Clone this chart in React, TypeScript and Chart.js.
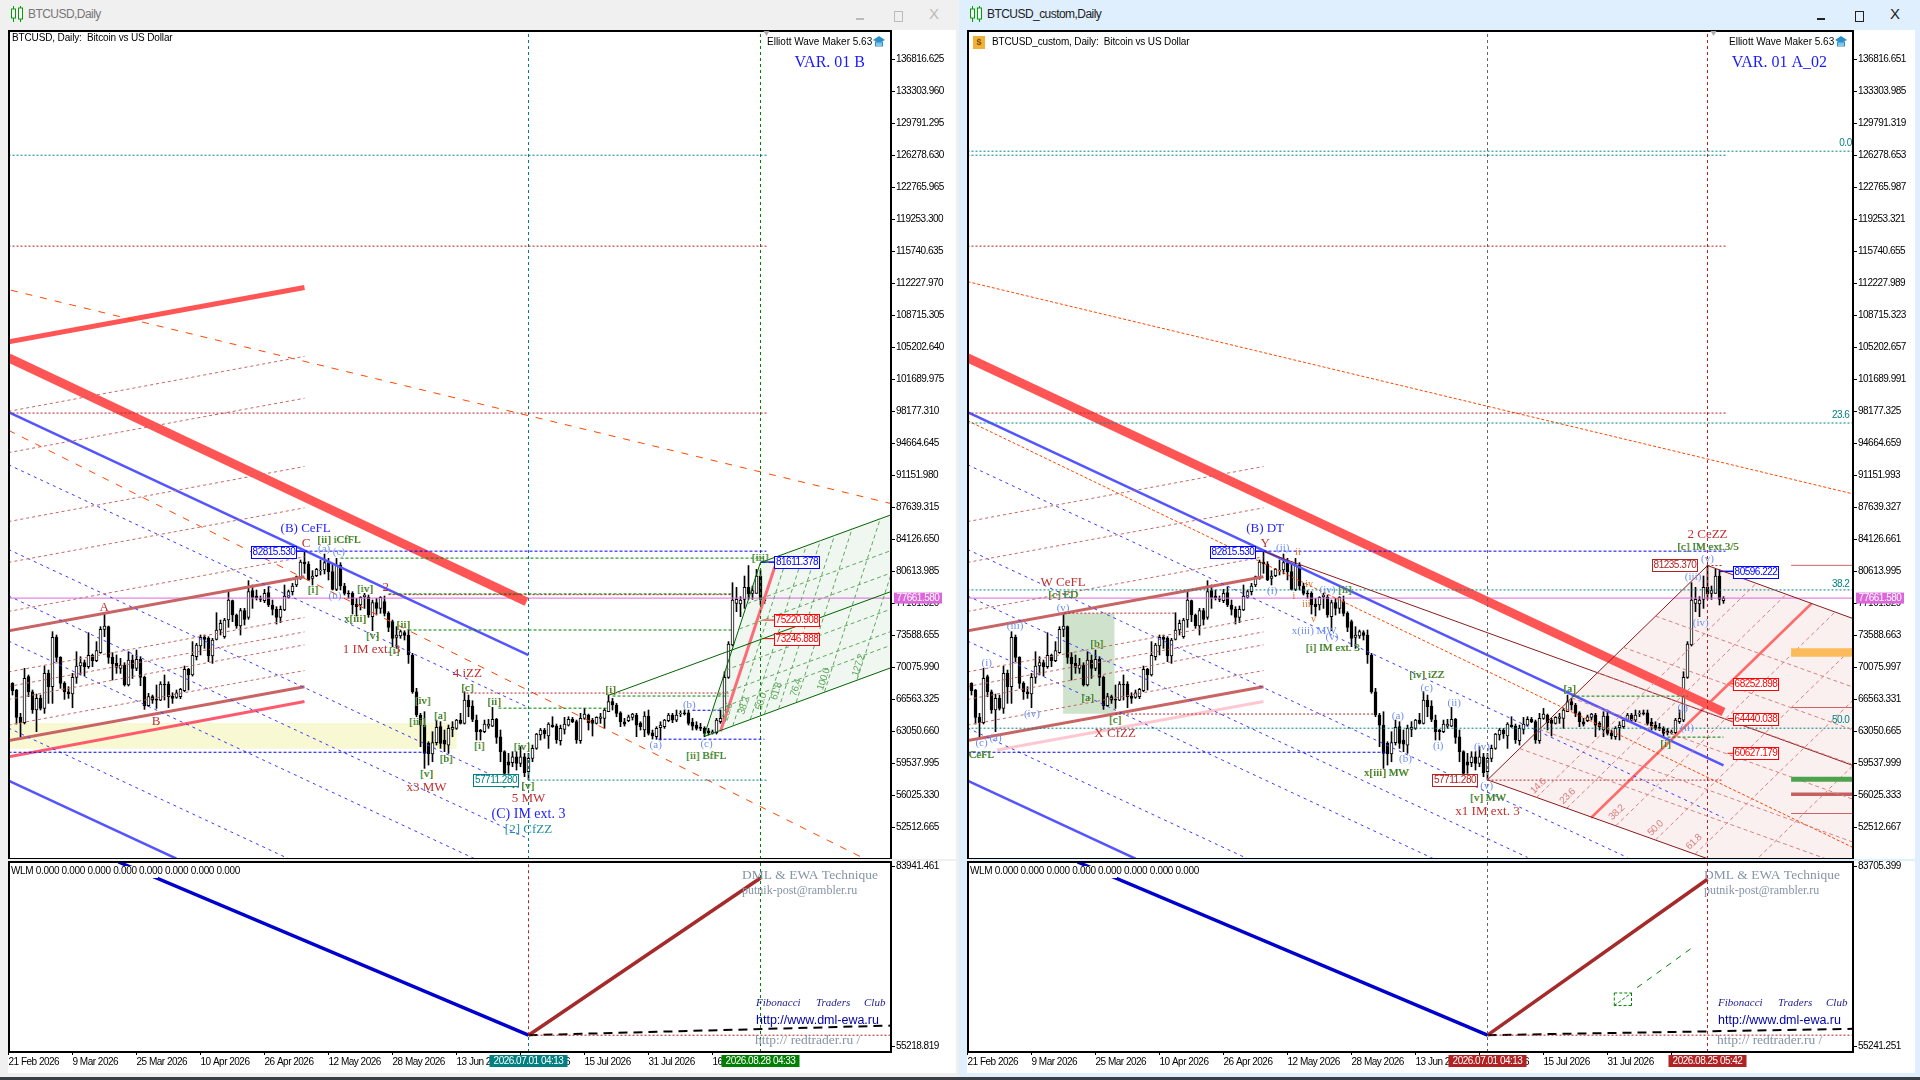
import React, { useEffect, useRef } from "react";
import { Chart, registerables } from "chart.js";

Chart.register(...registerables);

// ---------- candles (one per day from 21 Feb 2026) ----------
const opens = [68300,68300,67570,64570,63980,69035,67385,65375,66655,65555,
69400,67935,73355,71155,68300,67385,67130,68960,70205,70570,
70130,71375,70790,71670,74230,74525,71155,70495,69950,70315,
68120,70865,69950,70935,68960,65850,66840,66545,66470,68230,
68230,66910,66765,66840,67500,69840,69220,71230,72400,73355,
73245,71305,73130,74160,73425,75255,77380,75805,74600,76280,
75550,78475,77890,77600,77380,78255,76905,76425,75550,76355,
77745,78365,79100,79830,81625,81405,79830,80125,80675,80745,
81550,80565,78625,81295,78990,78185,78185,77015,76905,77820,
77745,75620,77160,76535,77270,75990,75075,73355,73500,73865,
73610,71415,67385,64825,63725,61710,60545,61790,63545,62080,
61530,63250,63360,64275,63910,66470,65815,64275,63180,62995,
63615,63615,64350,62445,60800,59700,59590,60250,59520,60250,
58605,60065,61165,62630,63180,62520,63725,63615,62005,63250,
63725,64350,64095,62005,64460,64825,64275,63910,64460,64460,
65190,66290,65925,65080,64090,64200,64570,64825,63910,63180,
64715,62885,62445,63435,63545,64200,64825,64275,64935,65080,
65080,64020,63725,63470,63360,63105,62885,62885,64090,64275,
68960,72510,77085,77015,77525,78840,78185,78185,80085,77380];
const closes = [67570,67500,64570,63980,68850,67385,65375,66655,65555,69400,
67935,73355,71155,68300,67385,67130,68960,70205,70570,70130,
71375,70790,71890,74230,74600,71155,70425,70060,70315,68120,
70865,69950,70935,68960,65850,66840,66470,66470,68230,68120,
66840,66655,67275,67640,69840,69220,71375,72510,73355,73130,
71305,73060,74160,74890,75255,77450,75805,74600,76280,75330,
78365,77745,77670,77525,78185,76905,76425,75550,76425,77890,
78365,78990,80015,81625,81405,79650,80085,80820,80745,81550,
80565,78625,81295,78990,78185,78110,76905,76720,77745,78000,
75805,77160,76535,77745,75990,74450,73245,73610,73975,73575,
71415,67385,64825,63725,60615,60545,61790,63470,61715,61640,
63360,63470,64275,63910,66470,65740,64350,62995,62995,63835,
63835,64350,62375,60800,58420,59335,60250,59520,60250,58495,
60065,61165,62740,63180,62740,63835,63545,62080,63360,63835,
64350,64095,62080,64460,64935,63985,63910,64570,64640,65375,
66290,65925,65010,64090,63835,64640,64935,63725,63545,64715,
62810,62520,63360,63725,64275,64825,64275,64825,65010,64935,
63910,63615,63360,63360,62810,62885,62995,64275,64460,68960,
72620,77450,77525,77450,78840,78110,78475,80085,77525,77635];
const highs = [68375,68375,67640,65010,69950,69220,67570,67130,67020,70205,
69765,73975,73610,71230,68485,67935,69400,71780,71230,70865,
73865,71520,72880,74525,75915,74600,71670,71415,71045,70570,
71780,71415,71960,71230,69105,67205,67020,68120,68485,69220,
68485,67275,67570,67755,70205,69950,72880,72695,73610,73610,
73425,73245,76060,75255,75440,78365,77450,75915,76535,76535,
79575,79100,78550,77890,78625,78915,77450,76720,76795,79100,
78550,79280,80085,81845,82830,81660,80675,80930,81845,82500,
82025,81405,82025,81550,79280,78475,78365,77635,77820,78185,
78000,77450,77635,77820,77890,76170,75255,74525,74160,74085,
74160,71595,67755,65010,65190,61900,62995,64275,64095,63180,
63725,64095,64350,65010,67385,67020,66400,64825,63250,64275,
64350,65665,64460,63180,60910,60615,60800,60800,61350,60615,
60615,61530,62810,63360,63360,63985,64640,63835,63725,64570,
64640,64570,64275,65010,65555,64935,64460,64640,65010,65555,
67020,66655,66105,65190,64460,64825,65010,65010,64090,65190,
65375,63180,63545,64090,64350,65010,65010,65375,65300,65375,
65375,64460,64090,63910,63545,63360,63180,64460,65375,69580,
72880,79355,78840,77820,80085,81235,78990,80820,80745,77820];
const lows = [67570,67020,63840,62450,63840,66840,65010,62995,65375,65010,
66105,66105,70680,67755,66545,66655,65630,68300,69220,69105,
69950,70130,70680,71595,73425,70495,68670,69400,69400,68010,
68010,68850,69695,68045,65445,65740,66105,65555,66400,66470,
65630,66105,66655,66620,67385,67570,69105,70865,71415,72145,
70680,70495,73060,73610,73245,74450,75075,74340,73610,74705,
75330,76535,77450,77270,77160,76720,75805,74815,74965,76280,
77635,78000,78915,79720,80380,79575,79100,80015,80195,80305,
79650,78550,78475,78550,78000,77635,75915,75695,76355,76535,
75550,74085,75805,75990,75695,73975,72330,72145,73245,73060,
70495,67205,64640,61350,58970,59335,59700,61530,61165,60800,
60615,62445,63250,63835,63835,64640,64095,62080,62080,62885,
63360,63545,61715,59700,58055,58420,59150,58785,59150,58055,
57711,59700,61055,62080,62265,61165,63470,61715,61530,62740,
63615,63985,61715,61715,64350,63180,62520,63835,63910,63360,
65190,65375,64640,63545,63615,64090,64275,62445,63180,62445,
62630,62190,62155,62080,63360,64090,63985,64090,64640,64825,
63725,63180,63180,63105,62445,62630,62740,62740,63910,64090,
68850,72400,76170,75620,76535,77525,77525,78185,76905,77085];

// ---------- axes ----------
const dateTickDays = [0,16,32,48,64,80,96,112,128,144,160,176];
const dateTickLabels = ["21 Feb 2026","9 Mar 2026","25 Mar 2026","10 Apr 2026","26 Apr 2026","12 May 2026","28 May 2026","13 Jun 2026","29 Jun 2026","15 Jul 2026","31 Jul 2026","16 Aug 2026"];
const leftPriceTicks = [136816.625,133303.96,129791.295,126278.63,122765.965,119253.3,115740.635,112227.97,108715.305,105202.64,101689.975,98177.31,94664.645,91151.98,87639.315,84126.65,80613.985,77101.32,73588.655,70075.99,66563.325,63050.66,59537.995,56025.33,52512.665];
const rightPriceTicks = [136816.651,133303.985,129791.319,126278.653,122765.987,119253.321,115740.655,112227.989,108715.323,105202.657,101689.991,98177.325,94664.659,91151.993,87639.327,84126.661,80613.995,77101.329,73588.663,70075.997,66563.331,63050.665,59537.999,56025.333,52512.667];
const leftIndicatorTicks = [83941.461, 55218.819];
const rightIndicatorTicks = [83705.399, 55241.251];
const lastPrice = 77661.58;

// ---------- drawn lines: [day, price, day, price] ----------
const sharedBlueLower = [[0,57620,42,49056]];
const sharedBrownThick = [[0,74060,74,80010],[0,62020,74,67930]];
const sharedBrownDash = [[0,86060,74,92110],[0,81580,74,87570],[0,76200,74,82190],[0,69560,74,75550],[0,67960,74,73950],[0,66540,74,72530],[0,63720,74,69710]];
const leftExtraBrownDash = [[0,98160,74,104200],[0,93630,74,99600]];
const leftThickRedDown = [[0,104030,129.5,77260]];
const leftThickRedUp = [[0,105790,74,111760]];
const leftBlue = [[0,98080,130,71390]];
const leftOrange = [[0.6,111460,221,88000],[0,96080,214,49056]];
const leftBlueFan = [[0,92300,130,65650],[0,83000,130,56350],[0,77900,130,51250],[0,72950,116.5,49056],[0,63400,70,49056]];
const leftRedChannel = [[0,60240,74,66300]];
const leftTealLevels = [[0,126278,189.5,126278],[130,57680,189.5,57680]];
const leftRedLevels = [[0,116296,189.5,116296],[0,97972,189.5,97972],[95,78040,181,78040],[114.5,67240,180,67240]];
const leftGreenLevels = [[83,82050,189,82050],[95,78120,181,78120],[100,74160,181,74160],[151,66910,180,66910],[122.5,65580,150,65580]];
const leftBlueLevels = [[74,82815,189.5,82815],[171,65350,178,65350],[162.5,62175,189,62175],[0,60740,105,60740]];
const leftGreenSolid = [[173.9,62520,188,81600],[150,66990,221,78440],[188,81560,221,86860],[174,62480,221,70080]];
const leftPinkMedian = [[178,63030,191.6,81130]];
const leftStubBlue = [[66.4,82815,74,82815],[188,81611,192,81611]];
const leftStubRed = [[188.5,75250,192,75250],[188.5,73210,192,73210]];

const rightThickRed = [[0,104030,189,65160]];
const rightBlue = [[0,98080,189,59300]];
const rightOrange = [[0,112400,221.4,89100],[0,97140,221.4,50280]];
const rightBlueFan = [[0,92300,189,53550],[0,83000,165,49180],[0,77900,140,49200],[0,72950,116.5,49056],[0,63400,70,49056]];
const rightPaleChannel = [[7.4,60995,74,66300]];
const rightTealLevels = [[0,126278,189.5,126278],[0,126720,221.4,126720],[0,96880,221.4,96880],[0,78560,221.4,78560],[0,63380,221.4,63380]];
const rightRedLevels = [[0,116296,189.5,116296],[0,97972,189.5,97972],[24.2,76010,52,76010],[36.9,64935,102,64935],[130,57680,189,57680],[185,81235,189,81235]];
const rightGreenLevels = [[151,66900,180,66900],[175,62400,189,62400]];
const rightBlueLevels = [[74,82815,189.5,82815],[0,60740,105,60740]];
const rightDarkRed = [[74.3,82740,221.4,59280],[185,81235,221.4,75410],[130,57711,185,49056],[130,57711,185,81235]];
const rightPinkMedian = [[155.9,53550,211,77070]];
const rightTargetThin = [[205.9,81260,221.4,81260],[205.9,65650,221.4,65650],[205.9,54015,221.4,54015]];
const rightTargetThick = [[205.9,56130,221.4,56130]];
const rightStubBlue = [[66.4,82815,74,82815],[188,80596,192,80596]];
const rightStubRed = [[190,68252,193,68252],[190,64440,193,64440],[190,60627,193,60627]];

// ---------- shaded areas: [day, price] corners ----------
const leftYellowZone = [[0,63950],[112,63950],[112,61130],[0,61130]];
const leftGreenFan = [[174,62480],[188,81560],[221,86860],[221,70080]];
const rightPinkFan = [[130,57711],[185,81235],[221.4,75410],[221.4,49022],[185,49022]];
const rightGreenBox = [[23.9,76010],[36.75,76010],[36.75,64975],[23.9,64975]];
const rightOrangeBox = [[205.9,72150],[221.4,72150],[221.4,71210],[205.9,71210]];
const rightGreenBar = [[205.9,58060],[221.4,58060],[221.4,57490],[205.9,57490]];

// ---------- fibonacci levels of the two fans ----------
const leftFanRays = [23.6,38.2,50,61.8,76.4,100,127.2];
const leftFanRows = [0.146,0.236,0.382,0.618,0.764];
const rightFanRays = [14.6,23.6,38.2,50,61.8,76.4,100];
const rightFanRows = [0.146,0.236,0.382,0.5,0.618,0.764];

// ---------- indicator pane ----------
const leftIndBlue = [[27.5,84643,130,57018]];
const leftIndBrown = [[130,57018,188,82091]];
const leftIndBlack = [[130,57018,221,58565]];
const leftIndRed = [[130,57018,221,57018]];
const rightIndBlue = [[27.5,84400,130,57035]];
const rightIndBrown = [[130,57035,185,81680]];
const rightIndBlack = [[130,57035,221.4,58030]];
const rightIndRed = [[130,57035,221.4,57035]];
const rightIndGreenDash = [[167.4,64555,181.9,71190]];
const rightIndGreenBox = [[161.7,63700,166,63700],[166,63700,166,61710],[166,61710,161.7,61710],[161.7,61710,161.7,63700],[161.7,61710,166,63700]];

// ---------- wave labels: [text, day, price] ----------
const leftBlueLabels = [["(B) CeFL",74.3,85266]];
const leftBlueBig = [["(C) IM ext. 3",130,53900]];
const leftRedLabels = [["C",74.4,83620],["2",94.3,78830],["1 IM ext. 3",90.8,72000],["A",23.9,76670],["B",36.9,64120],["x3 MW",104.5,56850],["4 iZZ",114.7,69400],["5 MW",130,55640]];
const leftTealLabels = [["[2] CfZZ",130,52240]];
const leftGreenLabels = [["[ii] iCfFL",82.6,83980],["[i]",76.1,78490],["[iv]",89.1,78690],["x[iii]",86.6,75350],["[ii]",98.7,74730],["[v]",91,73450],["[i]",96.4,71870],["[iv]",103.5,66380],["[iii]",102.2,64010],["[a]",107.9,64750],["[b]",109.4,59990],["[v]",104.5,58380],["[c]",114.7,67810],["[ii]",121.4,66220],["[i]",117.7,61460],["[iv]",128.3,61270],["[a]",125,57300],["[v]",129.8,57040],["[i]",150.5,67540],["[ii] BfFL",174.4,60360],["[iii]",187.9,82090]];
const leftLightLabels = [["(a)",78.9,83060],["(c)",82.6,82660],["(b)",81.6,77900],["(b)",170.2,65920],["(a)",161.8,61500],["(c)",174.5,61650]];
const leftBlueBoxes = [["82815.530",66.4,82770],["81611.378",197,81600]];
const leftRedBoxes = [["75220.908",197,75250],["73246.888",197,73210]];
const leftTealBoxes = [["57711.280",121.9,57680]];
const leftFanLabels = [["23.6",179.7,65160],["38.2",183.9,65840],["50.0",188.2,66300],["61.8",192,67430],["76.4",196.9,67810],["100.0",203.8,68750],["127.2",212.5,70270]];

const rightBlueLabels = [["(B) DT",74.4,85266]];
const rightRedLabels = [["Y",74.4,83690],["W CeFL",23.9,79370],["X CfZZ",36.9,62820],["x1 IM ext. 3",130,54200],["2 CeZZ",185,84680]];
const rightGreenLabels = [["[c] ED",23.9,78010],["[c] CeFL",1.6,60480],["[b]",32.3,72570],["[a]",30,66670],["[c]",36.9,64260],["[ii]",94.3,78500],["[i] IM ext. 3",91.3,72150],["x[iii] MW",104.7,58440],["[iv] iZZ",114.8,69170],["[v] MW",130.1,55720],["[a]",150.5,67620],["[i]",174.5,61680],["[c] IM ext.3/5",185.1,83230]];
const rightLightLabels = [["(ii)",78.8,83140],["(v)",23.9,76610],["(iii)",11.9,74610],["(i)",4.8,70570],["(iv)",16.1,64970],["(c)",3.5,61760],["(a)",7,62330],["(i)",76.2,78460],["(iv)",90,78500],["x(iii) MW",86.7,74040],["(v)",91.1,73400],["(a)",107.6,64750],["(b)",109.5,59990],["(c)",114.8,67810],["(ii)",121.7,66180],["(i)",117.7,61460],["(iv)",128.6,61270],["(v)",129.8,57000],["(i)",178.8,65620],["(ii)",179.9,63380],["(iii)",181.4,80020],["(iv)",183.3,74870],["(v)",185,81900]];
const rightOrangeLabels = [["ii",82.6,82660],["iv",85.4,79140],["i",81.6,77900],["iii",84.7,77000],["v",86.5,75290]];
const rightTealLabels = [["0.0",219.5,127550],["23.6",218.3,97710],["38.2",218.3,79145],["50.0",218.3,64220]];
const rightBlueBoxes = [["82815.530",66.4,82770],["80596.222",197.2,80580]];
const rightRedBoxes = [["68252.898",197.2,68220],["64440.038",197.2,64440],["60627.179",197.2,60630]];
const rightMaroonBoxes = [["57711.280",121.9,57680],["81235.370",176.8,81260]];
const rightFanLabels = [["14.6",142.7,57000],["23.6",150,55900],["38.2",162.3,54130],["50.0",172,52390],["61.8",181.6,50880]];

const leftTitle = "BTCUSD,Daily";
const rightTitle = "BTCUSD_custom,Daily";
const leftCaption = "BTCUSD, Daily:  Bitcoin vs US Dollar";
const rightCaption = "BTCUSD_custom, Daily:  Bitcoin vs US Dollar";
const makerText = "Elliott Wave Maker 5.63";
const leftVariant = "VAR. 01 B";
const rightVariant = "VAR. 01 A_02";
const indicatorCaption = "WLM 0.000 0.000 0.000 0.000 0.000 0.000 0.000 0.000";
const leftBadges = [["2026.07.01 04:13",130],["2026.08.28 04:33",188]];
const rightBadges = [["2026.07.01 04:13",130],["2026.08.25 05:42",185]];

// ---------- styling ----------
const SERIF = '"Liberation Serif",serif';
const SANS = '"Liberation Sans",sans-serif';
const TIGHT = "-0.5px";
const C = {
  red: "#ff5555", blue: "#5555ff", orange: "#ff4500", brown: "#c86464", rose: "#ff5a6e",
  teal: "#008080", darkRed: "#b22222", green: "#008000", dkGreen: "#006400", maroon: "#8b1a1a",
  fanGreen: "#5fa85f", fanRed: "#d98080", light: "#6f8ff0", magenta: "#dd66dd",
};

type Seg = number[];
type LineStyle = { color: string; width: number; dash?: number[] };

function lines(list: Seg[], s: LineStyle) {
  return list.map((p) => ({
    type: "line", order: 10, pointRadius: 0, tension: 0, fill: false,
    borderColor: s.color, borderWidth: s.width, borderDash: s.dash || [],
    data: [{ x: p[0], y: p[1] }, { x: p[2], y: p[3] }],
  }));
}
function area(corners: number[][], color: string, order = 100) {
  return {
    type: "line", order, pointRadius: 0, tension: 0, fill: "shape", borderWidth: 0,
    backgroundColor: color, borderColor: "transparent",
    data: [...corners, corners[0]].map((c) => ({ x: c[0], y: c[1] })),
  };
}
function candles() {
  const wick = opens.map((_, i) => ({ x: i, y: [lows[i], highs[i]] }));
  const body = opens.map((_, i) => ({ x: i, y: [opens[i], closes[i]] }));
  return [
    { type: "bar", order: 51, grouped: false, barThickness: 1, data: wick, backgroundColor: "#000", borderWidth: 0 },
    {
      type: "bar", order: 50, grouped: false, barThickness: 3, data: body, borderColor: "#000", borderWidth: 1, borderSkipped: false,
      backgroundColor: opens.map((o, i) => (closes[i] > o ? "#fff" : "#000")),
    },
  ];
}
function leftFan() {
  const rays = leftFanRays.map((l) => {
    const b = 174 + 0.3 * l;
    const pb = 62480 + 163.5 * (b - 174);
    return [b, pb, b + 14, pb + 19080];
  });
  const rows = leftFanRows.map((f) => {
    const d = 174 + 14 * f, p = 62480 + 19080 * f;
    return [d, p, 221, p + 162 * (221 - d)];
  });
  return lines([...rays, ...rows], { color: C.fanGreen, width: 1, dash: [4, 3] });
}
function rightFan() {
  const rays = rightFanRays.map((l) => {
    const b = 130 + 0.84 * l;
    const pb = 57711 - 157 * (b - 130);
    return [b, pb, b + 55, pb + 23540];
  });
  const rows = rightFanRows.map((f) => {
    const d = 130 + 55 * f, p = 57711 + 23524 * f;
    return [d, p, 221.4, p - 158 * (221.4 - d)];
  });
  return lines([...rays, ...rows], { color: C.fanRed, width: 1, dash: [4, 3] });
}

const ABOVE = 139912, BELOW = 49022;

function leftMainSets(xMax: number) {
  return [
    area(leftYellowZone, "#f8f8d2"), area(leftGreenFan, "#f0f7f0"),
    ...candles(),
    ...leftFan(),
    ...lines(leftTealLevels, { color: C.teal, width: 1, dash: [2, 2] }),
    ...lines(leftRedLevels, { color: C.darkRed, width: 1, dash: [2, 2] }),
    ...lines(leftGreenLevels, { color: C.green, width: 1, dash: [3, 2] }),
    ...lines(leftBlueLevels, { color: "#0000ff", width: 1, dash: [3, 2] }),
    ...lines([[130, BELOW, 130, ABOVE]], { color: C.teal, width: 1, dash: [3, 3] }),
    ...lines([[188, BELOW, 188, ABOVE]], { color: C.green, width: 1, dash: [3, 3] }),
    ...lines(leftExtraBrownDash, { color: C.brown, width: 1, dash: [3, 3] }),
    ...lines(sharedBrownDash, { color: C.brown, width: 1, dash: [3, 3] }),
    ...lines(leftBlueFan, { color: "#3a3aff", width: 1, dash: [3, 4] }),
    ...lines(leftOrange, { color: C.orange, width: 1, dash: [7, 8] }),
    ...lines(sharedBrownThick, { color: C.brown, width: 3 }),
    ...lines(leftRedChannel, { color: C.rose, width: 3 }),
    ...lines(leftThickRedDown, { color: C.red, width: 9 }),
    ...lines(leftThickRedUp, { color: C.red, width: 5 }),
    ...lines(leftBlue, { color: C.blue, width: 2.5 }),
    ...lines(sharedBlueLower, { color: C.blue, width: 2.5 }),
    ...lines(leftGreenSolid, { color: C.dkGreen, width: 1 }),
    ...lines(leftPinkMedian, { color: "#ff6a78", width: 3 }),
    ...lines(leftStubBlue, { color: "#0000ff", width: 1.5 }),
    ...lines(leftStubRed, { color: "#ff0000", width: 1 }),
    ...lines([[0, lastPrice, xMax, lastPrice]], { color: C.magenta, width: 1 }),
  ];
}
function rightMainSets(xMax: number) {
  return [
    area(rightPinkFan, "#faf0f0"), area(rightGreenBox, "#cfe3cc"),
    area(rightOrangeBox, "#fbbb5b", 9), area(rightGreenBar, "#4ea24e", 9),
    ...candles(),
    ...rightFan(),
    ...lines(rightTealLevels, { color: C.teal, width: 1, dash: [2, 2] }),
    ...lines(rightRedLevels, { color: C.darkRed, width: 1, dash: [2, 2] }),
    ...lines(rightGreenLevels, { color: C.green, width: 1, dash: [3, 2] }),
    ...lines(rightBlueLevels, { color: "#0000ff", width: 1, dash: [3, 2] }),
    ...lines([[130, BELOW, 130, ABOVE]], { color: "#666", width: 1, dash: [3, 3] }),
    ...lines([[185, BELOW, 185, ABOVE]], { color: C.darkRed, width: 1, dash: [3, 3] }),
    ...lines(sharedBrownDash, { color: C.brown, width: 1, dash: [3, 3] }),
    ...lines(rightBlueFan, { color: "#3a3aff", width: 1, dash: [3, 4] }),
    ...lines(rightOrange, { color: C.orange, width: 1, dash: [3, 2] }),
    ...lines(rightDarkRed, { color: C.maroon, width: 1 }),
    ...lines(sharedBrownThick, { color: C.brown, width: 3 }),
    ...lines(rightPaleChannel, { color: "#ffc8d0", width: 3 }),
    ...lines(rightThickRed, { color: C.red, width: 9 }),
    ...lines(rightBlue, { color: C.blue, width: 2.5 }),
    ...lines(sharedBlueLower, { color: C.blue, width: 2.5 }),
    ...lines(rightPinkMedian, { color: "#ff6a6a", width: 2.5 }),
    ...lines(rightTargetThin, { color: C.brown, width: 1 }),
    ...lines(rightTargetThick, { color: "#c46060", width: 3.5 }),
    ...lines(rightStubBlue, { color: "#0000ff", width: 1.5 }),
    ...lines(rightStubRed, { color: "#ff0000", width: 1 }),
    ...lines([[0, lastPrice, xMax, lastPrice]], { color: C.magenta, width: 1 }),
  ];
}

type LabelRow = (string | number)[];
function drawText(chart: any, rows: LabelRow[], font: string, color: string, halo?: string, spacing = "0px") {
  const { ctx, scales } = chart;
  ctx.letterSpacing = spacing;
  ctx.font = font; ctx.textAlign = "center"; ctx.textBaseline = "middle";
  rows.forEach((r) => {
    const x = scales.x.getPixelForValue(r[1]), y = scales.y.getPixelForValue(r[2]);
    if (halo) { ctx.fillStyle = halo; ctx.fillText(String(r[0]), x + 0.7, y); }
    ctx.fillStyle = color; ctx.fillText(String(r[0]), x, y);
  });
}
function drawBoxes(chart: any, rows: LabelRow[], color: string) {
  const { ctx, scales } = chart;
  ctx.letterSpacing = TIGHT;
  ctx.font = `10px ${SANS}`; ctx.textAlign = "center"; ctx.textBaseline = "middle";
  rows.forEach((r) => {
    const x = Math.round(scales.x.getPixelForValue(r[1])), y = Math.round(scales.y.getPixelForValue(r[2]));
    ctx.fillStyle = "#fff"; ctx.fillRect(x - 22.5, y - 6, 45, 12);
    ctx.strokeStyle = color; ctx.lineWidth = 1; ctx.strokeRect(x - 22.5, y - 5.5, 45, 12);
    ctx.fillStyle = color; ctx.fillText(String(r[0]), x, y + 0.5);
  });
}
function drawRotated(chart: any, rows: LabelRow[], color: string, deg: number) {
  const { ctx, scales } = chart;
  ctx.letterSpacing = TIGHT;
  ctx.font = `10px ${SANS}`; ctx.textAlign = "center"; ctx.textBaseline = "middle"; ctx.fillStyle = color;
  rows.forEach((r) => {
    ctx.save();
    ctx.translate(scales.x.getPixelForValue(r[1]), scales.y.getPixelForValue(r[2]));
    ctx.rotate((deg * Math.PI) / 180);
    ctx.fillText(String(r[0]), 0, 0);
    ctx.restore();
  });
}
function drawHat(ctx: any, x: number, y: number) {
  ctx.fillStyle = "#2a8fc8";
  ctx.beginPath(); ctx.moveTo(x - 6, y - 2); ctx.lineTo(x, y - 6); ctx.lineTo(x + 6, y - 2); ctx.lineTo(x, y + 1); ctx.closePath(); ctx.fill();
  ctx.fillStyle = "#7fc4e8";
  ctx.fillRect(x - 3, y + 0, 6, 3);
  ctx.strokeStyle = "#2a8fc8"; ctx.lineWidth = 1; ctx.strokeRect(x - 3.5, y, 7, 4);
}
function frame(chart: any) {
  const { ctx, chartArea: a } = chart;
  ctx.save();
  ctx.strokeStyle = "#000"; ctx.lineWidth = 2;
  ctx.strokeRect(a.left, a.top, a.right - a.left, a.bottom - a.top);
  ctx.restore();
}
function clipped(chart: any, fn: () => void) {
  const { ctx, chartArea: a } = chart;
  ctx.save(); ctx.beginPath(); ctx.rect(a.left, a.top, a.right - a.left, a.bottom - a.top); ctx.clip();
  fn(); ctx.restore();
}
const tightTicks = { id: "tightTicks", beforeDraw(chart: any) { chart.ctx.letterSpacing = TIGHT; } };

const leftMainPlugin = {
  id: "leftMain",
  afterDatasetsDraw(chart: any) {
    clipped(chart, () => {
      const small = `11px ${SERIF}`, big = `13px ${SERIF}`;
      drawRotated(chart, leftFanLabels, C.fanGreen, -72);
      drawText(chart, leftGreenLabels, small, "#0f8a55", "#d2991e");
      drawText(chart, leftLightLabels, small, C.light);
      drawText(chart, leftRedLabels, big, "#c03030");
      drawText(chart, leftBlueLabels, big, "#2222ff");
      drawText(chart, leftBlueBig, `14px ${SERIF}`, "#2222ff");
      drawText(chart, leftTealLabels, big, "#20909a");
      drawBoxes(chart, leftBlueBoxes, "#0000ff");
      drawBoxes(chart, leftRedBoxes, "#ff0000");
      drawBoxes(chart, leftTealBoxes, C.teal);
    });
  },
  afterDraw(chart: any) { overlayMain(chart, leftCaption, 4, leftVariant, 188, "#000"); },
};
const rightMainPlugin = {
  id: "rightMain",
  afterDatasetsDraw(chart: any) {
    clipped(chart, () => {
      const small = `11px ${SERIF}`, big = `13px ${SERIF}`;
      drawRotated(chart, rightFanLabels, C.fanRed, -44);
      drawText(chart, rightGreenLabels, small, "#0f8a55", "#d2991e");
      drawText(chart, rightLightLabels, small, C.light);
      drawText(chart, rightOrangeLabels, `10px ${SERIF}`, "#e07020");
      drawText(chart, rightRedLabels, big, "#c03030");
      drawText(chart, rightBlueLabels, big, "#2222ff");
      drawText(chart, rightTealLabels, `10px ${SANS}`, C.teal, undefined, TIGHT);
      drawBoxes(chart, rightBlueBoxes, "#0000ff");
      drawBoxes(chart, rightRedBoxes, "#ff0000");
      drawBoxes(chart, rightMaroonBoxes, C.darkRed);
    });
  },
  afterDraw(chart: any) { overlayMain(chart, rightCaption, 25, rightVariant, 185, "#000"); },
};
function overlayMain(chart: any, caption: string, capX: number, variant: string, triDay: number, col: string) {
  const { ctx, chartArea: a, scales } = chart;
  frame(chart);
  ctx.save();
  ctx.letterSpacing = "-0.14px";
  ctx.textBaseline = "middle"; ctx.textAlign = "left"; ctx.fillStyle = col;
  ctx.font = `10px ${SANS}`;
  const capY = capX > 10 ? 12 : 8;
  ctx.fillText(caption, capX, capY);
  if (capX > 10) {
    ctx.fillStyle = "#f2b136"; ctx.fillRect(6, 6, 12, 13);
    ctx.fillStyle = "#7a4f00"; ctx.font = `bold 9px ${SANS}`; ctx.fillText("$", 9.5, 13);
    ctx.fillStyle = col;
  }
  ctx.letterSpacing = "0px";
  ctx.font = `10px ${SANS}`;
  ctx.fillText(makerText, a.right - 124, 12);
  drawHat(ctx, a.right - 12, 12);
  ctx.font = `16px ${SERIF}`; ctx.fillStyle = "#1a1aff"; ctx.textAlign = "right";
  ctx.fillText(variant, a.right - 26, 33);
  ctx.fillStyle = "#aaa"; ctx.beginPath();
  const tx = scales.x.getPixelForValue(triDay + 1.5);
  ctx.moveTo(tx - 3, 1); ctx.lineTo(tx + 3, 1); ctx.lineTo(tx, 6); ctx.closePath(); ctx.fill();
  const y = scales.y.getPixelForValue(lastPrice);
  ctx.fillStyle = C.magenta; ctx.fillRect(a.right + 3, y - 5.5, 48, 11);
  ctx.letterSpacing = TIGHT;
  ctx.fillStyle = "#fff"; ctx.font = `10px ${SANS}`; ctx.textAlign = "center";
  ctx.fillText(lastPrice.toFixed(3), a.right + 27, y + 0.5);
  ctx.restore();
}
function overlayInd(chart: any, badges: LabelRow[], badgeColor: string) {
  const { ctx, chartArea: a, scales } = chart;
  frame(chart);
  ctx.save();
  ctx.fillStyle = "#fff"; ctx.fillRect(a.left + 1, a.top + 4, 148, 12);
  ctx.letterSpacing = "-0.33px";
  ctx.fillStyle = "#000"; ctx.textAlign = "left"; ctx.textBaseline = "middle"; ctx.font = `10px ${SANS}`;
  ctx.fillText(indicatorCaption, 3, 10);
  ctx.letterSpacing = "0px";
  const tx = a.right - 135;
  ctx.fillStyle = "#8594a6"; ctx.font = `13.5px ${SERIF}`; ctx.fillText("DML & EWA Technique", tx - 14, 14);
  ctx.font = `12px ${SERIF}`; ctx.fillText("putnik-post@rambler.ru", tx - 14, 30);
  ctx.fillStyle = "#1a1a8c"; ctx.font = `italic 11px ${SERIF}`;
  ctx.fillText("Fibonacci", tx, 142); ctx.fillText("Traders", tx + 60, 142); ctx.fillText("Club", tx + 108, 142);
  ctx.fillStyle = "#0000aa"; ctx.font = `12.5px ${SANS}`;
  ctx.fillText("http://www.dml-ewa.ru", tx, 160);
  ctx.fillStyle = "#8594a6"; ctx.font = `13.5px ${SERIF}`; ctx.fillText("http:// redtrader.ru /", tx - 1, 179);
  ctx.letterSpacing = TIGHT;
  ctx.font = `10px ${SANS}`; ctx.textAlign = "center";
  badges.forEach((b) => {
    const x = scales.x.getPixelForValue(b[1]);
    ctx.fillStyle = badgeColor === "mixed" ? (b[1] === 130 ? C.teal : C.green) : badgeColor;
    ctx.fillRect(x - 39, a.bottom + 3, 78, 12);
    ctx.fillStyle = "#fff"; ctx.fillText(String(b[0]), x, a.bottom + 9.5);
  });
  ctx.restore();
}

function yAxis(tickValues: number[], axisWidth: number, min: number, max: number) {
  return {
    type: "linear", position: "right", min, max,
    afterBuildTicks(s: any) { s.ticks = tickValues.map((value) => ({ value })); },
    afterFit(s: any) { s.width = axisWidth; s.paddingTop = 0; s.paddingBottom = 0; },
    ticks: { autoSkip: false, padding: 1, color: "#000", font: { family: SANS, size: 10 }, callback: (v: number) => Number(v).toFixed(3) },
    grid: { drawOnChartArea: false, tickLength: 4, color: "#000", tickColor: "#000" },
    border: { display: false },
  };
}
function baseOptions(xMax: number, yScale: any, xExtra: any) {
  return {
    responsive: false, animation: false, maintainAspectRatio: false, devicePixelRatio: 1,
    layout: { padding: { left: 1, top: 1, right: 0, bottom: 0 } },
    plugins: { legend: { display: false }, tooltip: { enabled: false } },
    events: [],
    scales: { x: { type: "linear", min: 0.125, max: xMax, offset: false, ...xExtra }, y: yScale },
  };
}
const hiddenX = { display: false };
const dateAxis = {
  display: true,
  afterBuildTicks(s: any) { s.ticks = dateTickDays.map((value) => ({ value })); },
  afterFit(s: any) { s.height = 21; s.paddingLeft = 0; s.paddingRight = 0; },
  ticks: {
    autoSkip: false, align: "start", maxRotation: 0, padding: 1, color: "#000", font: { family: SANS, size: 10 },
    callback: (v: number) => dateTickLabels[dateTickDays.indexOf(Number(v))],
  },
  grid: { drawOnChartArea: false, tickLength: 3, color: "#000", tickColor: "#000" },
  border: { display: false },
};

const Title = ({ left, width, bg, text, dark }: any) => (
  <div style={{ position: "absolute", left, top: 0, width, height: 1077, background: bg }}>
    <svg width="14" height="18" style={{ position: "absolute", left: 10, top: 5 }}>
      <path d="M3.5 1V17M10.5 1V17" stroke="#00a000" strokeWidth="1" />
      <rect x="1.5" y="4" width="4" height="9" fill="#fff" stroke="#00a000" />
      <rect x="8.5" y="3" width="4" height="11" fill="#fff" stroke="#00a000" />
    </svg>
    <div style={{ position: "absolute", left: 28, top: 6, font: `12px ${SANS}`, letterSpacing: "-0.55px", color: dark ? "#222" : "#777", lineHeight: "16px" }}>{text}</div>
    <div style={{ position: "absolute", right: 95, top: 18, width: 8, height: 1.5, background: dark ? "#222" : "#bbb" }} />
    <div style={{ position: "absolute", right: 56, top: 11, width: 7, height: 9, border: `1.5px solid ${dark ? "#222" : "#bbb"}` }} />
    <div style={{ position: "absolute", right: 20, top: 5, font: `15px ${SANS}`, color: dark ? "#222" : "#bbb" }}>X</div>
  </div>
);

export default function App() {
  const a = useRef<HTMLCanvasElement>(null);
  const b = useRef<HTMLCanvasElement>(null);
  const c = useRef<HTMLCanvasElement>(null);
  const d = useRef<HTMLCanvasElement>(null);

  useEffect(() => {
    const lx = 220.625, rx = 221.375;
    const charts = [
      new Chart(a.current as any, {
        type: "line",
        data: { datasets: leftMainSets(lx) as any },
        options: baseOptions(lx, yAxis(leftPriceTicks, 65, BELOW, ABOVE), hiddenX) as any,
        plugins: [tightTicks, leftMainPlugin],
      }),
      new Chart(b.current as any, {
        type: "line",
        data: { datasets: [
          ...lines(leftIndRed, { color: C.darkRed, width: 1, dash: [2, 2] }),
          ...lines(leftIndBlack, { color: "#000", width: 2, dash: [9, 6] }),
          ...lines([[130, 54342, 130, 57018]], { color: C.teal, width: 1, dash: [3, 3] }),
          ...lines([[130, 57018, 130, 84643]], { color: C.darkRed, width: 1, dash: [3, 3] }),
          ...lines([[188, 54342, 188, 84643]], { color: C.green, width: 1, dash: [3, 3] }),
          ...lines(leftIndBlue, { color: "#0000cd", width: 3.5 }),
          ...lines(leftIndBrown, { color: "#a52a2a", width: 3.5 }),
        ] as any },
        options: baseOptions(lx, yAxis(leftIndicatorTicks, 65, 54342, 84643), dateAxis) as any,
        plugins: [tightTicks, { id: "li", afterDraw: (ch: any) => overlayInd(ch, leftBadges, "mixed") }],
      }),
      new Chart(c.current as any, {
        type: "line",
        data: { datasets: rightMainSets(rx) as any },
        options: baseOptions(rx, yAxis(rightPriceTicks, 62, BELOW, ABOVE), hiddenX) as any,
        plugins: [tightTicks, rightMainPlugin],
      }),
      new Chart(d.current as any, {
        type: "line",
        data: { datasets: [
          ...lines(rightIndRed, { color: C.darkRed, width: 1, dash: [2, 2] }),
          ...lines(rightIndBlack, { color: "#000", width: 2, dash: [9, 6] }),
          ...lines([[130, 54372, 130, 84400]], { color: "#666", width: 1, dash: [3, 3] }),
          ...lines([[185, 54372, 185, 84400]], { color: C.darkRed, width: 1, dash: [3, 3] }),
          ...lines(rightIndGreenDash, { color: C.green, width: 1, dash: [6, 6] }),
          ...lines(rightIndGreenBox, { color: C.green, width: 1, dash: [3, 2] }),
          ...lines(rightIndBlue, { color: "#0000cd", width: 3.5 }),
          ...lines(rightIndBrown, { color: "#a52a2a", width: 3.5 }),
        ] as any },
        options: baseOptions(rx, yAxis(rightIndicatorTicks, 62, 54372, 84400), dateAxis) as any,
        plugins: [tightTicks, { id: "ri", afterDraw: (ch: any) => overlayInd(ch, rightBadges, C.darkRed) }],
      }),
    ];
    return () => charts.forEach((ch) => ch.destroy());
  }, []);

  const cv = (left: number, top: number, h: number): React.CSSProperties => ({ position: "absolute", left, top, width: 948, height: h, background: "#fff", display: "block" });
  return (
    <div style={{ position: "fixed", left: 0, top: 0, width: 1920, height: 1080, overflow: "hidden", background: "#3a3f46" }}>
      <Title left={0} width={959} bg="#f0f0f0" text={leftTitle} dark={false} />
      <Title left={959} width={961} bg="#dfeffd" text={rightTitle} dark />
      <canvas ref={a} width={948} height={829} style={cv(8, 30, 829)} />
      <canvas ref={b} width={948} height={212} style={cv(8, 861, 212)} />
      <canvas ref={c} width={948} height={829} style={cv(967, 30, 829)} />
      <canvas ref={d} width={948} height={212} style={cv(967, 861, 212)} />
    </div>
  );
}
